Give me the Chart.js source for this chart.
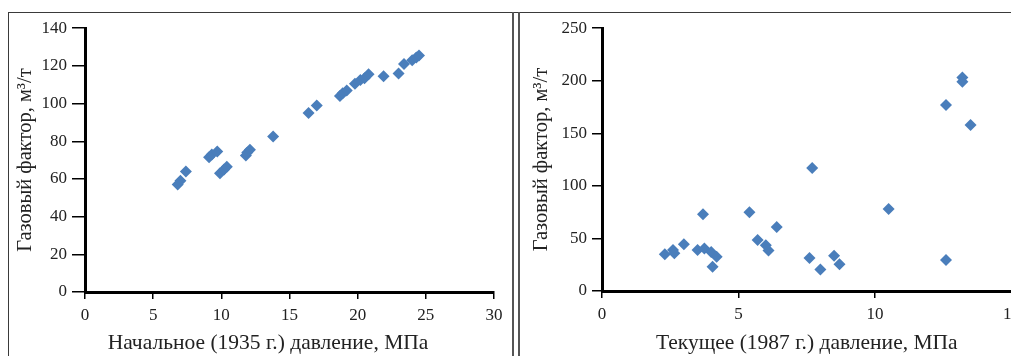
<!DOCTYPE html>
<html>
<head>
<meta charset="utf-8">
<script src="https://cdn.jsdelivr.net/npm/chart.js@4"></script>
<style>
  body { margin: 0; background: #fff; overflow: hidden; width: 1011px; height: 356px; position: relative; }
  .ln { position: absolute; background: #3a3a3a; }
  .cv { position: absolute; }
</style>
</head>
<body>
<div class="ln" style="left:8px;top:12px;width:1003px;height:1px;"></div>
<div class="ln" style="left:8px;top:12px;width:1px;height:344px;"></div>
<div class="ln" style="left:512px;top:12px;width:2px;height:344px;background:#555;"></div>
<div class="ln" style="left:518px;top:12px;width:2px;height:344px;background:#555;"></div>

<div class="cv" style="left:9px;top:13px;width:503px;height:343px;"><canvas id="left-chart"></canvas></div>
<div class="cv" style="left:521px;top:13px;width:540px;height:343px;"><canvas id="right-chart"></canvas></div>

<script>
// initial pressure (1935) vs gas factor
var initPressure = [6.8, 7.0, 7.4, 9.1, 9.3, 9.7, 9.9, 10.2, 10.4, 11.8, 11.9, 12.1, 13.8, 16.4, 17.0, 18.7, 18.9, 19.2, 19.8, 20.2, 20.5, 20.8, 21.9, 23.0, 23.4, 24.0, 24.3, 24.5];
var initGas = [57, 59, 64, 71.5, 73, 74.5, 63, 65, 66.5, 72.5, 74, 75.5, 82.5, 95, 99, 104, 105.5, 107, 110.5, 112.5, 113.5, 115.5, 114.5, 116, 121, 123, 124.5, 125.5];

// current pressure (1987) vs gas factor
var curPressure = [2.3, 2.6, 2.65, 3.0, 3.5, 3.7, 3.75, 4.0, 4.05, 4.2, 5.4, 5.7, 6.0, 6.1, 6.4, 7.6, 7.7, 8.0, 8.5, 8.7, 10.5, 12.6, 12.6, 13.2, 13.2, 13.5];
var curGas = [35, 39, 36, 44.5, 39, 73, 40.5, 37, 23, 32.5, 75, 48.5, 43.5, 38.5, 61, 31.5, 117, 20.5, 33.5, 25.5, 78, 177, 29.5, 203, 199, 158];

var yTitle = 'Газовый фактор, м³/т';
var leftXTitle = 'Начальное (1935 г.) давление, МПа        ';
var rightXTitle = 'Текущее (1987 г.) давление, МПа';

var serif = 'Liberation Serif';
var txt = '#222';
var dotColor = '#4a7ebb';

function points(xs, ys) {
  var out = [];
  for (var i in xs) out.push({x: xs[i], y: ys[i]});
  return out;
}

function makeChart(id, data, xMax, yMax, yStep, yAxisW, xAxisH, pad, yTickLen, yTitlePad) {
  return new Chart(document.getElementById(id), {
    type: 'scatter',
    data: {
      datasets: [{
        data: data,
        backgroundColor: dotColor,
        borderColor: dotColor,
        borderWidth: 0,
        pointStyle: 'rectRot',
        pointRadius: 6,
        pointHoverRadius: 6
      }]
    },
    options: {
      responsive: true,
      maintainAspectRatio: false,
      animation: false,
      events: [],
      layout: { padding: pad },
      plugins: { legend: { display: false }, tooltip: { enabled: false } },
      scales: {
        x: {
          type: 'linear', min: 0, max: xMax,
          ticks: { stepSize: 5, color: txt, font: { family: serif, size: 17 }, padding: 6, maxRotation: 0 },
          grid: { drawOnChartArea: false, drawTicks: true, tickLength: 7, color: '#000', lineWidth: 1.5 },
          border: { display: true, color: '#000', width: 3 },
          title: { display: true, text: id == 'left-chart' ? leftXTitle : rightXTitle, color: txt, font: { family: serif, size: 21.5 }, padding: { top: 0, bottom: 0 } },
          afterFit: function(axis) { axis.height = xAxisH; }
        },
        y: {
          type: 'linear', min: 0, max: yMax,
          ticks: { stepSize: yStep, color: txt, font: { family: serif, size: 17 }, padding: 5 },
          grid: { drawOnChartArea: false, drawTicks: true, tickLength: yTickLen, color: '#000', lineWidth: 1.5 },
          border: { display: true, color: '#000', width: 3 },
          title: { display: true, text: yTitle, color: txt, font: { family: serif, size: 20.5 }, padding: { top: yTitlePad, bottom: 0 } },
          afterFit: function(axis) { axis.width = yAxisW; }
        }
      }
    }
  });
}

makeChart('left-chart', points(initPressure, initGas), 30, 140, 20, 76, 64, { left: 0, right: 18, top: 13, bottom: 0 }, 13, 4);
makeChart('right-chart', points(curPressure, curGas), 15, 250, 50, 81, 65, { left: 0, right: 49.5, top: 11, bottom: 0 }, 10, 8);
</script>
</body>
</html>
